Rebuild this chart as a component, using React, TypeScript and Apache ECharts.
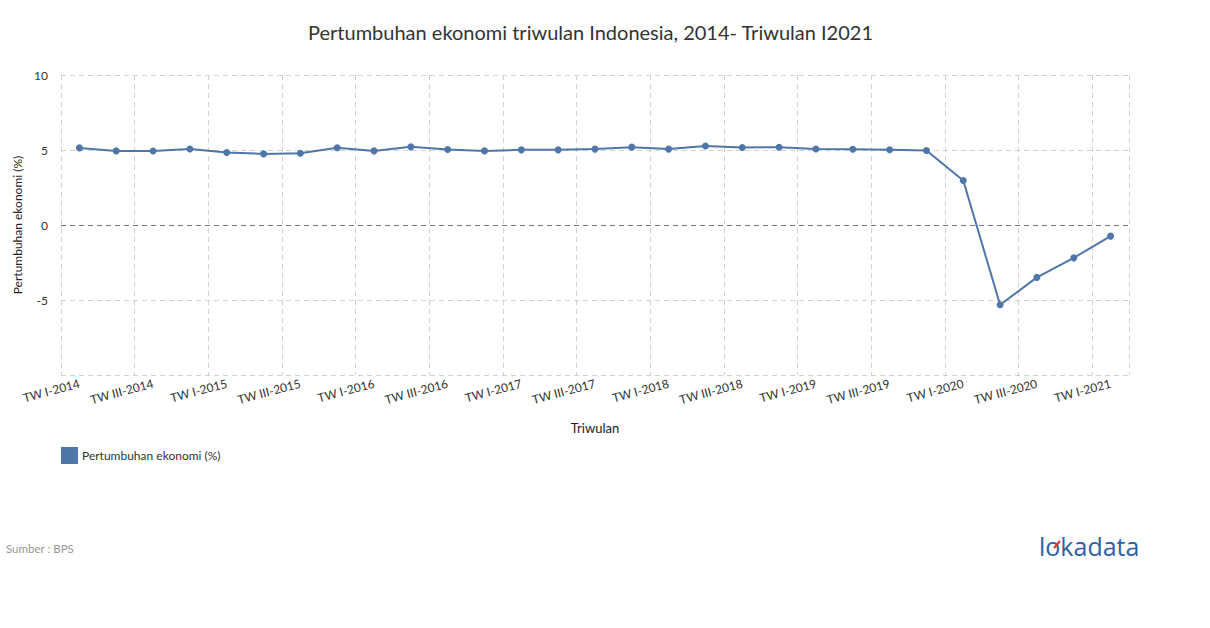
import React, { useEffect, useRef } from "react";
import * as echarts from "echarts";

const years = [2014, 2015, 2016, 2017, 2018, 2019, 2020, 2021];
const quarters = ["I", "II", "III", "IV"];
const categories: string[] = [];
years.forEach((y) => {
  quarters.forEach((q) => {
    if (y === 2021 && q !== "I") return;
    categories.push(`TW ${q}-${y}`);
  });
});

const growth = [
  5.14, 4.94, 4.93, 5.07, 4.83, 4.74, 4.78, 5.15, 4.94, 5.21, 5.03, 4.94, 5.01, 5.01, 5.06,
  5.19, 5.06, 5.27, 5.17, 5.18, 5.07, 5.05, 5.02, 4.97, 2.97, -5.32, -3.49, -2.19, -0.74,
];

const seriesName = "Pertumbuhan ekonomi (%)";
const titleText = "Pertumbuhan ekonomi triwulan Indonesia, 2014- Triwulan I2021";
const yTicks = [-10, -5, 0, 5, 10];

const FONT = "Lato, 'Noto Sans', sans-serif";
const LINE_COLOR = "#4e76a8";

export default function App() {
  const ref = useRef<HTMLDivElement>(null);
  useEffect(() => {
    if (!ref.current) return;
    const chart = echarts.init(ref.current, null, { renderer: "svg" });
    chart.setOption({
      animation: false,
      backgroundColor: "#ffffff",
      textStyle: { fontFamily: FONT },
      title: {
        text: titleText,
        left: 303,
        top: 17,
        textStyle: { fontFamily: FONT, fontSize: 20, fontWeight: "normal", color: "#333333" },
      },
      legend: {
        left: 56,
        top: 442,
        icon: "rect",
        itemWidth: 17,
        itemHeight: 17,
        itemGap: 10,
        data: [seriesName],
        textStyle: { fontFamily: FONT, fontSize: 12, color: "#333333", padding: [0, 0, 0, -1] },
      },
      grid: { left: 61, right: 81, top: 75, bottom: 253, containLabel: false },
      xAxis: {
        type: "category",
        data: categories,
        boundaryGap: true,
        name: "Triwulan",
        nameLocation: "middle",
        nameGap: 46,
        nameTextStyle: { fontFamily: FONT, fontSize: 13, color: "#222222" },
        axisLine: { show: false },
        axisTick: { show: false, interval: 1 },
        axisLabel: {
          interval: 1,
          rotate: 15,
          margin: 8,
          fontFamily: FONT,
          fontSize: 12,
          color: "#333333",
        },
        splitLine: {
          show: true,
          interval: 1,
          lineStyle: { color: "#d0d0d0", type: [5, 4], width: 1 },
        },
      },
      yAxis: {
        type: "value",
        min: yTicks[0],
        max: yTicks[yTicks.length - 1],
        interval: 5,
        name: "Pertumbuhan ekonomi (%)",
        nameLocation: "middle",
        nameGap: 36,
        nameTextStyle: { fontFamily: FONT, fontSize: 12, color: "#222222" },
        axisLine: { show: false },
        axisTick: { show: false },
        axisLabel: {
          fontFamily: FONT,
          fontSize: 12,
          color: "#333333",
          margin: 13,
          formatter: (v: number) => (v === yTicks[0] ? "" : String(v)),
        },
        splitLine: {
          show: true,
          lineStyle: { color: "#d0d0d0", type: [5, 4], width: 1 },
        },
      },
      series: [
        {
          name: seriesName,
          type: "line",
          data: growth,
          color: LINE_COLOR,
          symbol: "circle",
          symbolSize: 7,
          lineStyle: { width: 2, color: LINE_COLOR },
          itemStyle: { color: LINE_COLOR },
          markLine: {
            silent: true,
            symbol: "none",
            label: { show: false },
            lineStyle: { color: "#777777", type: [5, 4], width: 1 },
            data: [{ yAxis: 0 }],
          },
        },
      ],
      graphic: [
        {
          type: "text",
          left: 6,
          top: 542,
          style: { text: "Sumber : BPS", fill: "#999999", fontSize: 11.5, fontFamily: FONT },
        },
        {
          type: "text",
          left: 1039,
          top: 533,
          style: {
            text: "lokadata",
            fill: "#2f5fa5",
            fontSize: 25,
            fontWeight: 500,
            fontFamily: "'Open Sans', sans-serif",
          },
        },
        {
          type: "line",
          shape: { x1: 1054, y1: 548, x2: 1060, y2: 541 },
          style: { stroke: "#e0312f", lineWidth: 2 },
        },
      ],
    });
    return () => chart.dispose();
  }, []);
  return (
    <div
      ref={ref}
      style={{ position: "fixed", left: 0, top: 0, width: 1210, height: 628 }}
    />
  );
}
